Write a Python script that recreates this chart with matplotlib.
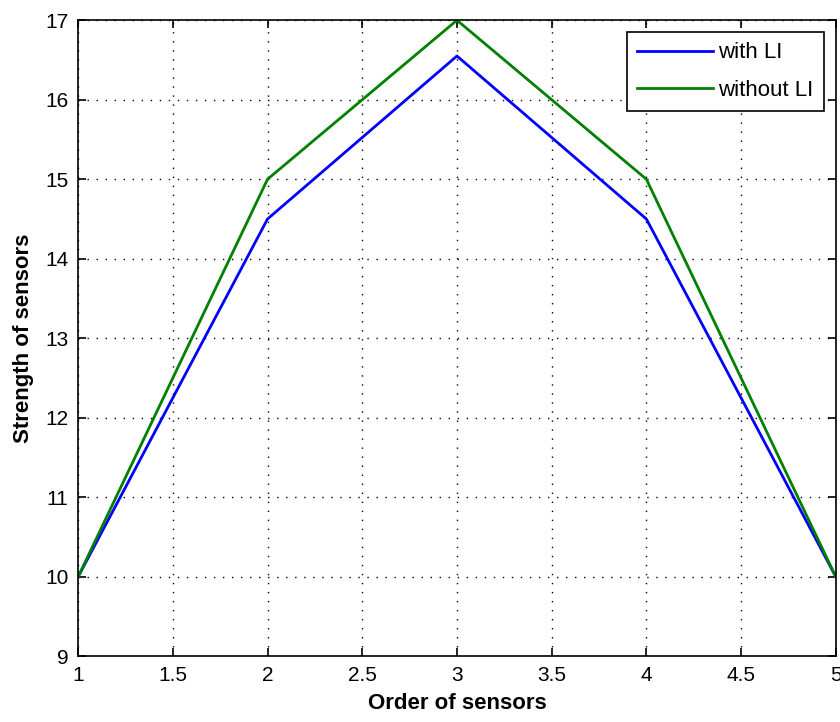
import matplotlib
matplotlib.use('Agg')
import matplotlib.pyplot as plt

plt.rcParams['font.family'] = ['Liberation Sans', 'DejaVu Sans']

order = [1, 2, 3, 4, 5]
with_li = [10, 14.5, 16.55, 14.5, 10]
without_li = [10, 15, 17, 15, 10]

fig = plt.figure(figsize=(8.4, 7.22), dpi=100)
ax = fig.add_axes([0.093, 0.091, 0.902, 0.881])

ax.plot(order, with_li, color='#0000ff', linewidth=2, label='with LI')
ax.plot(order, without_li, color='#008000', linewidth=2, label='without LI')

ax.set_xlim(1, 5)
ax.set_ylim(9, 17)
ax.set_xticks([1, 1.5, 2, 2.5, 3, 3.5, 4, 4.5, 5])
ax.set_xticklabels(['1', '1.5', '2', '2.5', '3', '3.5', '4', '4.5', '5'])
ax.set_yticks(range(9, 18))

ax.grid(True, color='black', linestyle=(0, (1, 5.5)), linewidth=1.0)
ax.tick_params(direction='in', top=True, right=True, length=6, width=1.2,
               labelsize=15, pad=7)
for s in ax.spines.values():
    s.set_linewidth(1.2)

ax.set_xlabel('Order of sensors', fontsize=16, fontweight='bold', labelpad=6)
ax.set_ylabel('Strength of sensors', fontsize=16, fontweight='bold', labelpad=8)

leg = ax.legend(loc='upper right', fontsize=16, fancybox=False, framealpha=1,
                edgecolor='black', borderaxespad=0.55, handlelength=3.4,
                handletextpad=0.25, labelspacing=0.75, borderpad=0.45)
leg.get_frame().set_linewidth(1.2)

fig.savefig('out.png', dpi=100)
